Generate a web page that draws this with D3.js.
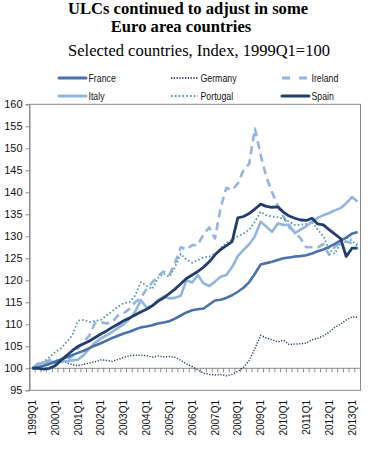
<!DOCTYPE html>
<html><head><meta charset="utf-8">
<script src="https://cdn.jsdelivr.net/npm/d3@7"></script>
<style>body{margin:0;background:#fff}svg{display:block}</style>
</head><body><svg id="c" width="369" height="453"></svg>
<script>
const quarters = [];
for (let yr = 1999; yr <= 2013; yr++) for (let q = 1; q <= 4; q++) { if (yr === 2013 && q > 2) break; quarters.push(yr + "Q" + q); }
const tickLabels = ["1999Q1","2000Q1","2001Q1","2002Q1","2003Q1","2004Q1","2005Q1","2006Q1","2007Q1","2008Q1","2009Q1","2010Q1","2011Q1","2012Q1","2013Q1"];
const yTicks = [95,100,105,110,115,120,125,130,135,140,145,150,155,160];

const france = [100.0,100.3,100.6,101.0,101.5,102.0,102.5,103.0,103.5,104.0,104.6,105.2,105.7,106.3,106.9,107.4,107.9,108.3,108.8,109.3,109.5,109.8,110.2,110.4,110.7,111.3,112.0,112.7,113.2,113.4,113.6,114.5,115.4,115.6,116.0,116.6,117.4,118.3,119.6,121.5,123.6,123.9,124.2,124.6,125.0,125.2,125.4,125.5,125.7,126.1,126.6,127.0,127.6,128.3,129.0,129.7,130.6,131.0];
const germany = [100.0,100.2,100.6,101.0,101.2,101.5,101.3,100.8,100.6,100.9,101.2,101.5,101.9,101.8,101.6,102.0,102.5,102.8,103.0,102.9,102.9,102.5,102.8,102.6,102.7,102.5,101.8,101.0,100.4,99.6,98.9,98.6,98.5,98.6,98.3,98.6,99.3,100.2,101.8,104.5,107.5,106.9,106.5,106.0,106.4,105.4,105.5,105.6,105.7,106.5,106.8,107.4,108.2,109.3,110.0,111.0,111.7,111.6];
const ireland = [100.0,101.0,101.2,101.8,102.0,101.5,101.8,102.8,104.5,106.0,107.5,110.3,110.5,110.2,110.5,112.0,112.5,113.5,115.0,116.0,118.0,119.5,121.0,122.0,121.2,124.0,127.5,127.0,128.0,128.0,130.5,132.0,129.5,136.5,141.0,140.5,142.0,145.0,146.5,154.5,148.5,143.5,140.0,137.0,134.5,132.0,131.0,129.5,127.5,127.5,127.5,128.2,125.8,127.6,128.5,128.8,128.4,128.4];
const italy = [100.0,101.0,101.2,101.5,101.5,101.8,101.6,101.8,102.0,103.0,104.5,105.8,106.8,107.5,108.3,109.2,110.0,111.2,112.8,115.5,113.8,114.2,115.5,116.3,115.9,116.0,116.5,120.0,119.5,121.2,119.3,118.7,119.7,120.8,121.2,123.0,125.5,126.9,128.2,130.0,133.3,132.2,131.0,132.9,132.6,132.6,130.7,131.5,132.3,133.3,134.2,134.8,135.3,135.9,136.4,137.5,138.9,137.9];
const portugal = [100.0,101.0,101.5,102.5,103.7,104.5,106.0,107.5,110.8,111.0,110.5,110.8,111.0,112.0,113.0,114.0,114.8,115.0,116.5,119.6,118.8,118.0,120.5,121.5,120.8,123.0,126.0,124.7,124.0,124.6,125.2,125.4,126.0,127.3,128.5,129.2,130.0,130.6,131.5,133.3,135.6,134.8,134.5,134.3,134.0,133.3,132.6,132.6,132.8,133.3,131.5,130.0,127.0,126.0,128.5,129.8,129.0,127.8];
const spain = [100.0,100.0,99.8,100.0,100.6,101.8,102.9,104.0,105.0,105.6,106.2,107.0,107.8,108.5,109.3,110.0,110.8,111.4,112.1,112.8,113.4,114.2,115.2,116.0,117.0,118.0,119.2,120.4,121.2,122.0,123.0,124.2,125.8,127.0,127.9,128.8,134.2,134.5,135.2,136.2,137.3,136.8,136.6,136.7,135.5,134.6,134.1,133.7,133.6,134.1,132.8,132.6,131.5,130.5,129.5,125.4,127.3,127.3];

const seriesNames = ["France","Germany","Ireland","Italy","Portugal","Spain"];
const seriesData = [france, germany, ireland, italy, portugal, spain];
const styles = {
  France:   {color:"#4a72aa", width:2.6, dash:null},
  Germany:  {color:"#22406f", width:1.5, dash:"1.2,1.6"},
  Ireland:  {color:"#93b4de", width:2.6, dash:"8,5"},
  Italy:    {color:"#93b4de", width:2.6, dash:null},
  Portugal: {color:"#4d95a8", width:1.8, dash:"1.6,2.2"},
  Spain:    {color:"#213e6d", width:2.8, dash:null}
};
const drawOrder = ["Germany","Ireland","Portugal","Italy","France","Spain"];

(function () {
const svg = d3.select("#c");
const pLeft = 29.5, pRight = 360.5, pTop = 104.3, pBottom = 390.3;
const x = d3.scaleBand().domain(quarters).range([pLeft, pRight]);
const y = d3.scaleLinear().domain([95, 160]).range([pBottom, pTop]);
const axisColor = "#8a8a8a";
const labelFont = "'Liberation Sans',Arial,sans-serif";
const serif = "'Liberation Serif','Times New Roman',serif";

svg.append("text").attr("x", 188).attr("y", 14).attr("text-anchor","middle")
  .attr("font-family", serif).attr("font-weight","bold").attr("font-size",16.6)
  .text("ULCs continued to adjust in some");
svg.append("text").attr("x", 181).attr("y", 32).attr("text-anchor","middle")
  .attr("font-family", serif).attr("font-weight","bold").attr("font-size",16.6)
  .text("Euro area countries");
svg.append("text").attr("x", 199).attr("y", 55.5).attr("text-anchor","middle")
  .attr("font-family", serif).attr("font-size",16.5)
  .text("Selected countries, Index, 1999Q1=100");

const legX = [59, 171, 282];
const legY = [78, 96];
seriesNames.forEach((n, i) => {
  const st = styles[n];
  const lx = legX[i % 3], ly = legY[Math.floor(i / 3)];
  const g = svg.append("g");
  g.append("line").attr("x1", lx).attr("x2", lx + 27).attr("y1", ly).attr("y2", ly)
    .attr("stroke", st.color).attr("stroke-width", n === "Germany" || n === "Portugal" ? 2 : 3)
    .attr("stroke-dasharray", n === "Ireland" ? "8,9" : (st.dash ? st.dash : null))
    .attr("stroke-linecap", (n === "France" || n === "Italy" || n === "Spain") ? "round" : "butt");
  g.append("text").attr("transform", `translate(${lx + 29.5},${ly + 4}) scale(0.86,1)`)
    .attr("font-family", labelFont).attr("font-size", 10.2).attr("fill", "#111").text(n);
});

svg.append("rect").attr("x", pLeft).attr("y", pTop).attr("width", pRight - pLeft).attr("height", pBottom - pTop)
  .attr("fill", "none").attr("stroke", axisColor).attr("stroke-width", 1);

const yAxis = svg.append("g").attr("transform", `translate(${pLeft},0)`)
  .call(d3.axisLeft(y).tickValues(yTicks).tickSize(4).tickPadding(3));
yAxis.select(".domain").attr("stroke", axisColor);
yAxis.selectAll(".tick line").attr("stroke", axisColor);
yAxis.selectAll("text").attr("font-family", labelFont).attr("font-size", 11).attr("fill", "#111");

const x0 = y(100);
svg.append("line").attr("x1", pLeft).attr("x2", pRight).attr("y1", x0).attr("y2", x0)
  .attr("stroke", axisColor).attr("stroke-width", 1);
const boundaries = quarters.map(q => x(q)).concat([x(quarters[quarters.length - 1]) + x.bandwidth()]);
svg.append("g").selectAll("line").data(boundaries).join("line")
  .attr("x1", d => d).attr("x2", d => d).attr("y1", x0).attr("y2", x0 + 4)
  .attr("stroke", axisColor).attr("stroke-width", 1);
svg.append("g").selectAll("text").data(tickLabels).join("text")
  .attr("transform", d => `translate(${x(d) + x.bandwidth() / 2 + 3.6},400) rotate(-90)`)
  .attr("text-anchor", "end")
  .attr("font-family", labelFont).attr("font-size", 10).attr("fill", "#111")
  .text(d => d);

const line = d3.line().x((d, i) => x(quarters[i]) + x.bandwidth() / 2).y(d => y(d));
drawOrder.forEach(n => {
  const st = styles[n];
  svg.append("path").datum(seriesData[seriesNames.indexOf(n)])
    .attr("d", line).attr("fill", "none").attr("stroke", st.color)
    .attr("stroke-width", st.width).attr("stroke-dasharray", st.dash)
    .attr("stroke-linejoin", "round");
});
})();
</script></body></html>
